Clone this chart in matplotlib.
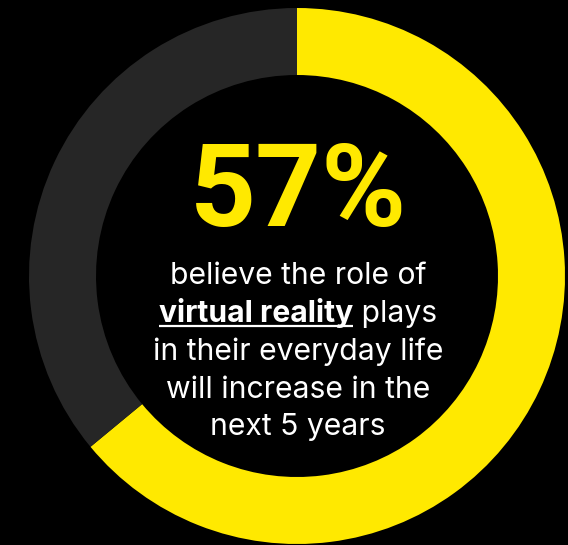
import matplotlib
matplotlib.use("Agg")
import matplotlib.pyplot as plt
from matplotlib.lines import Line2D

W, H = 568, 545

# ring shares as drawn in the artwork (yellow arc covers ~64% of the ring)
shares = [64, 36]
share_colors = ["#FFE900", "#262626"]

headline = "57%"
bold_part = "virtual reality"
rest_part = " plays"
body_lines = ["believe the role of", None, "in their everyday life",
              "will increase in the", "next 5 years"]

FONT = "Inter"
HEAD_FONT = "Roboto"
CX, CY = 297, 276          # ring centre, image pixels (y down)
R_OUT, RING_W = 268, 67
TEXT_X = 298
BASELINES = [284, 322, 360, 398, 435]


def ypix(y):
    return H - y


fig = plt.figure(figsize=(W / 100, H / 100), dpi=100)
fig.patch.set_facecolor("black")
ax = fig.add_axes([0, 0, 1, 1])
ax.set_facecolor("black")

ax.pie(shares, colors=share_colors, startangle=90, counterclock=False,
       center=(CX, ypix(CY)), radius=R_OUT,
       wedgeprops=dict(width=RING_W, linewidth=0))
ax.set_xlim(0, W)
ax.set_ylim(0, H)
ax.set_aspect("equal")
ax.axis("off")

ax.text(TEXT_X, ypix(226), headline, color=share_colors[0], fontsize=83,
        fontweight="bold", family=HEAD_FONT, ha="center", va="baseline")

fs = 21.7
for i, line in enumerate(body_lines):
    if line is None:
        continue
    ax.text(TEXT_X, ypix(BASELINES[i]), line, color="white", fontsize=fs,
            family=FONT, ha="center", va="baseline")

# mixed line: bold underlined part followed by regular text
renderer = fig.canvas.get_renderer()
t_bold = ax.text(0, ypix(BASELINES[1]), bold_part, color="white", fontsize=fs,
                 family=FONT, fontweight="bold", ha="left", va="baseline")
t_rest = ax.text(0, ypix(BASELINES[1]), rest_part, color="white", fontsize=fs,
                 family=FONT, ha="left", va="baseline")
w_bold = t_bold.get_window_extent(renderer).width
w_rest = t_rest.get_window_extent(renderer).width
x0 = TEXT_X - (w_bold + w_rest) / 2
t_bold.set_x(x0)
t_rest.set_x(x0 + w_bold)
ax.add_line(Line2D([x0, x0 + w_bold], [ypix(BASELINES[1] + 4)] * 2,
                   color="white", linewidth=1.6, solid_capstyle="butt"))

fig.savefig("out.png", dpi=100, facecolor="black")
